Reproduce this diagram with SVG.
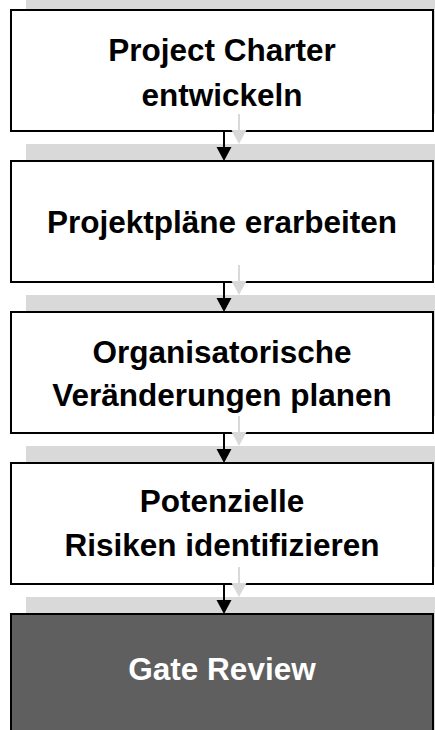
<svg xmlns="http://www.w3.org/2000/svg" width="435" height="730" viewBox="0 0 435 730">
<style>
.sh{fill:#d9d9d9;stroke:none}
.box{fill:#ffffff;stroke:#000000;stroke-width:2}
.gate{fill:#5f5f5f;stroke:#000000;stroke-width:2}
.t{font-family:"Liberation Sans",Arial,sans-serif;font-weight:bold;font-size:31.5px;text-anchor:middle;fill:#000000}
.tw{fill:#ffffff}
.ln{stroke:#000000;stroke-width:2}
.lns{stroke:#d9d9d9;stroke-width:2}
</style>
<g id="node1">
<rect class="sh" x="26" y="-7" width="422" height="121"/>
<rect class="box" x="11" y="10" width="422" height="121"/>
<text class="t" x="222" y="61">Project Charter</text>
<text class="t" x="222" y="106">entwickeln</text>
</g>
<g id="node2">
<rect class="sh" x="26" y="144" width="422" height="121"/>
<rect class="box" x="11" y="161" width="422" height="121"/>
<text class="t" x="222" y="233">Projektpläne erarbeiten</text>
</g>
<g id="node3">
<rect class="sh" x="26" y="295" width="422" height="121"/>
<rect class="box" x="11" y="312" width="422" height="121"/>
<text class="t" x="222" y="363">Organisatorische</text>
<text class="t" x="222" y="406">Veränderungen planen</text>
</g>
<g id="node4">
<rect class="sh" x="26" y="446" width="422" height="121"/>
<rect class="box" x="11" y="463" width="422" height="121"/>
<text class="t" x="222" y="512">Potenzielle</text>
<text class="t" x="222" y="556">Risiken identifizieren</text>
</g>
<g id="node5">
<rect class="sh" x="26" y="597" width="422" height="140"/>
<rect class="gate" x="11" y="614" width="422" height="140"/>
<text class="t tw" x="222" y="680">Gate Review</text>
</g>
<g id="connectors">
<g id="shadow-arrows">
<line class="lns" x1="239" y1="114" x2="239" y2="131"/>
<path d="M231.5,130 L246.5,130 L239,144 Z" fill="#d9d9d9"/>
<line class="lns" x1="239" y1="265" x2="239" y2="282"/>
<path d="M231.5,281 L246.5,281 L239,295 Z" fill="#d9d9d9"/>
<line class="lns" x1="239" y1="416" x2="239" y2="433"/>
<path d="M231.5,432 L246.5,432 L239,446 Z" fill="#d9d9d9"/>
<line class="lns" x1="239" y1="567" x2="239" y2="584"/>
<path d="M231.5,583 L246.5,583 L239,597 Z" fill="#d9d9d9"/>
</g>
<line class="ln" x1="224" y1="131" x2="224" y2="148"/>
<path d="M216.5,147 L231.5,147 L224,161 Z" fill="#000000"/>
<line class="ln" x1="224" y1="282" x2="224" y2="299"/>
<path d="M216.5,298 L231.5,298 L224,312 Z" fill="#000000"/>
<line class="ln" x1="224" y1="433" x2="224" y2="450"/>
<path d="M216.5,449 L231.5,449 L224,463 Z" fill="#000000"/>
<line class="ln" x1="224" y1="584" x2="224" y2="601"/>
<path d="M216.5,600 L231.5,600 L224,614 Z" fill="#000000"/>
</g>
</svg>
